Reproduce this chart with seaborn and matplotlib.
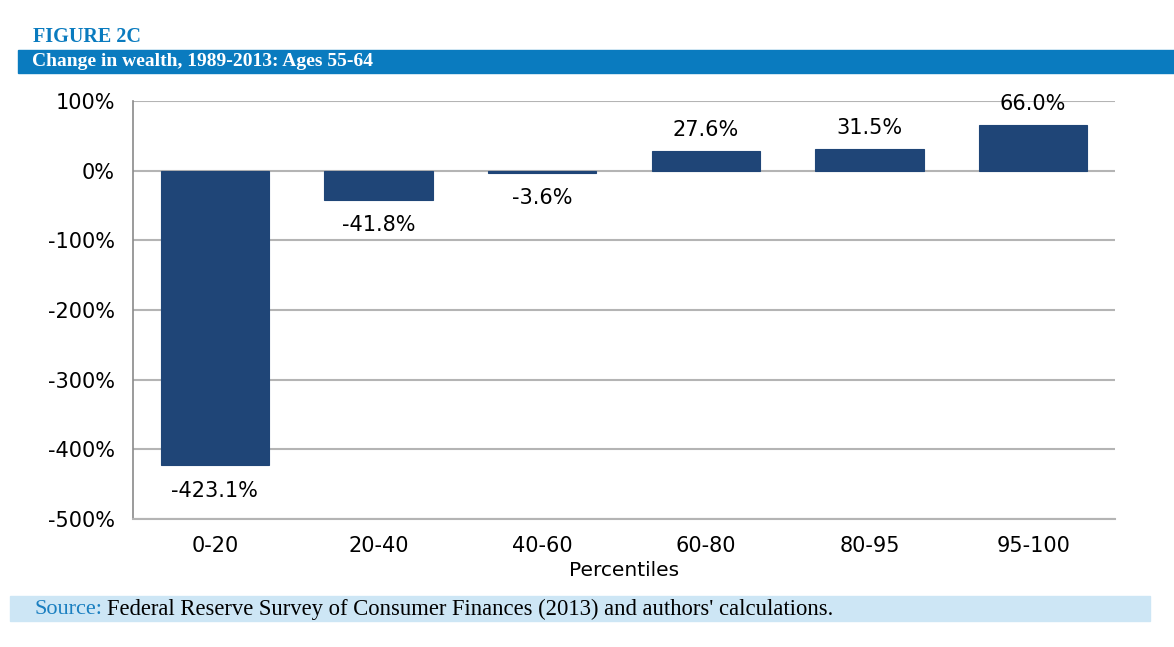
import numpy as np
import pandas as pd
import matplotlib
matplotlib.use("Agg")
import matplotlib.pyplot as plt
import seaborn as sns
from matplotlib.patches import Rectangle

percentiles = ["0-20", "20-40", "40-60", "60-80", "80-95", "95-100"]
change = [-423.1, -41.8, -3.6, 27.6, 31.5, 66.0]
yticks = [100, 0, -100, -200, -300, -400, -500]

BAR = "#1f4577"
BAND = "#0a7bbf"
SRC_BAND = "#cde6f5"
GRID = "#b4b4b4"

sns.set_style("white")
plt.rcParams["font.family"] = ["DejaVu Sans"]
plt.rcParams["text.color"] = "black"
plt.rcParams["xtick.color"] = "black"
plt.rcParams["ytick.color"] = "black"
plt.rcParams["axes.labelcolor"] = "black"

df = pd.DataFrame({"pct": percentiles, "change": change})

fig = plt.figure(figsize=(11.74, 6.47), dpi=100)
ax = fig.add_axes([133 / 1174, 1 - 519 / 647, (1115 - 133) / 1174, (519 - 101) / 647])

sns.barplot(data=df, x="pct", y="change", color=BAR, width=0.66, saturation=1,
            edgecolor=BAR, linewidth=0.8, ax=ax, zorder=3)

ax.set_ylim(-500, 100)
ax.set_yticks(yticks)
ax.set_yticklabels([f"{v}%" for v in yticks])
ax.yaxis.grid(True, color=GRID, lw=1.5, zorder=0)
ax.set_axisbelow(True)
for s in ["top", "right"]:
    ax.spines[s].set_visible(False)
ax.spines["left"].set_color("#8a8a8a")
ax.spines["bottom"].set_color(GRID)
ax.spines["left"].set_linewidth(1.2)
ax.spines["bottom"].set_linewidth(1.5)
ax.tick_params(axis="y", length=6, color="#8a8a8a", labelsize=15, pad=7)
ax.tick_params(axis="x", length=0, labelsize=15, pad=12)
ax.set_xlabel("Percentiles", fontsize=14.5, labelpad=4)
ax.set_ylabel("")

for i, v in enumerate(change):
    if v < 0:
        ax.annotate(f"{v:.1f}%", (i, v), xytext=(0, -11), textcoords="offset points",
                    ha="center", va="top", fontsize=15)
    else:
        ax.annotate(f"{v:.1f}%", (i, v), xytext=(0, 8), textcoords="offset points",
                    ha="center", va="bottom", fontsize=15)

# header
fig.text(33 / 1174, 1 - 37 / 647, "FIGURE 2C", family="Liberation Serif",
         weight="bold", fontsize=14.5, color=BAND, va="center")
fig.patches.append(Rectangle((18 / 1174, 1 - 73 / 647), 1 - 18 / 1174, 23 / 647,
                             transform=fig.transFigure, color=BAND, zorder=0))
fig.text(32 / 1174, 1 - 61.5 / 647, "Change in wealth, 1989-2013: Ages 55-64",
         family="Liberation Serif", weight="bold", fontsize=14, color="white",
         va="center")

# source
fig.patches.append(Rectangle((10 / 1174, 1 - 621 / 647), 1140 / 1174, 25 / 647,
                             transform=fig.transFigure, color=SRC_BAND, zorder=0))
fig.text(34 / 1174, 1 - 609 / 647, "Source:", family="Liberation Serif",
         fontsize=16, color="#1a7fc0", va="center")
fig.text(107 / 1174, 1 - 609 / 647,
         "Federal Reserve Survey of Consumer Finances (2013) and authors' calculations.",
         family="Liberation Serif", fontsize=16.3, color="black", va="center")

fig.savefig("out.png", dpi=100)
